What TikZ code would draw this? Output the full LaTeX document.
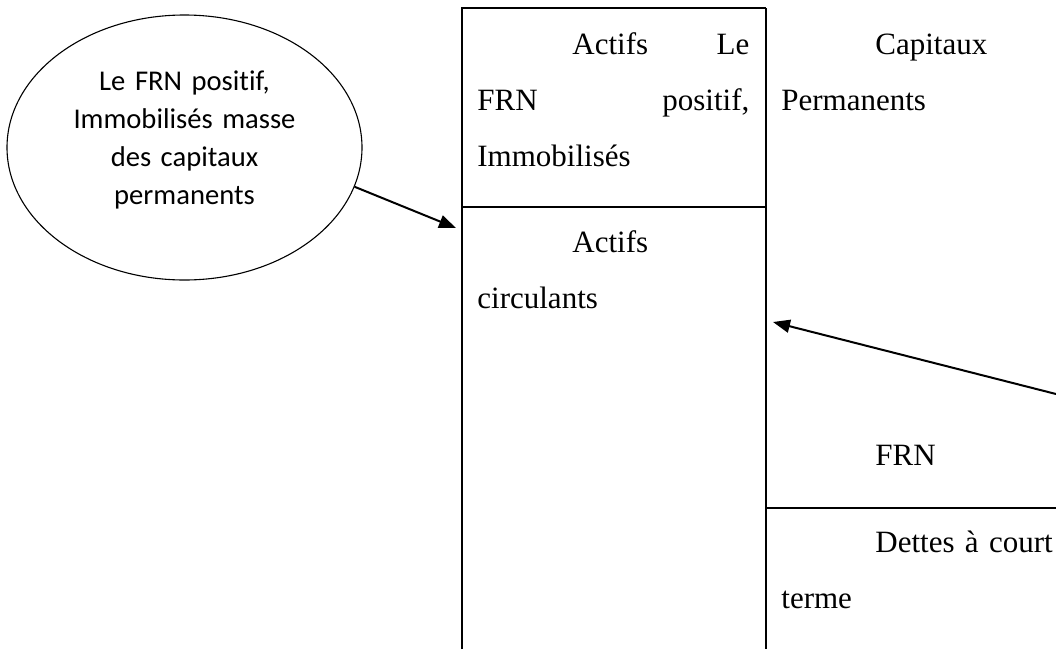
\documentclass[tikz,border=0pt]{standalone}
\usepackage{fontspec}
\setmainfont{Liberation Serif}
\newfontfamily\bullefont[Ligatures=CommonOff]{Carlito}
\usepackage{tikz}
\usetikzlibrary{shapes.geometric, arrows.meta, positioning}
\tikzset{
    bulle/.style={draw, ellipse, inner sep=0pt, minimum width=177.5pt, minimum height=132.5pt, line width=0.55pt},
    bulletexte/.style={inner sep=0pt, anchor=base, text width=130pt, align=center, font=\bullefont\fontsize{14.3}{19.1}\selectfont},
    cellule/.style={inner sep=0pt, anchor=base west, text width=150pt, align=left, font=\fontsize{15.5}{28}\selectfont},
    trait/.style={line width=1pt, draw=black},
    fleche/.style={-{Triangle[length=8.5pt,width=6.5pt]}, line width=1pt, draw=black}
}

\begin{document}
\begin{tikzpicture}[x=0.5pt, y=-0.5pt]
        \useasboundingbox (0,0) rectangle (1056,649);

        % -----------------------------------------------------------------
        % TABLEAU DU BILAN
        % -----------------------------------------------------------------
        \draw[trait] (462,649) -- (462,8) -- (766,8);
        \draw[trait] (766,8) -- (766,649);
        \draw[trait] (462,207) -- (766,207);
        \draw[trait] (766,508) -- (1056,508);

        \node[cellule, text width=136pt] (immo) at (477,54) {\hspace*{47.5pt}Actifs\hfill Le\\FRN\hfill positif,\\Immobilisés};
        \node[cellule] (circ) at (477,252) {\hspace*{47.5pt}Actifs\\circulants};
        \node[cellule] (capi) at (781,54) {\hspace*{47pt}Capitaux\\Permanents};
        \node[cellule] (frn) at (781,465) {\hspace*{47pt}FRN};
        \node[cellule] (dettes) at (781,552) {\hspace*{47pt}Dettes à court\\terme};

        % -----------------------------------------------------------------
        % BULLE ET FLECHES
        % -----------------------------------------------------------------
        \node[bulle] (bulle) at (184.5,147.5) {};
        \node[bulletexte] (bulletxt) at (184.5,90) {Le FRN positif,\\Immobilisés masse\\des capitaux\\permanents};

        \coordinate (pointeA) at (456,228);
        \coordinate (pointeB) at (773,322);
        \coordinate (departB) at (1056,394);

        \draw[fleche] (bulle.-13) -- (pointeA);
        \draw[fleche] (departB) -- (pointeB);

    \end{tikzpicture}
\end{document}
